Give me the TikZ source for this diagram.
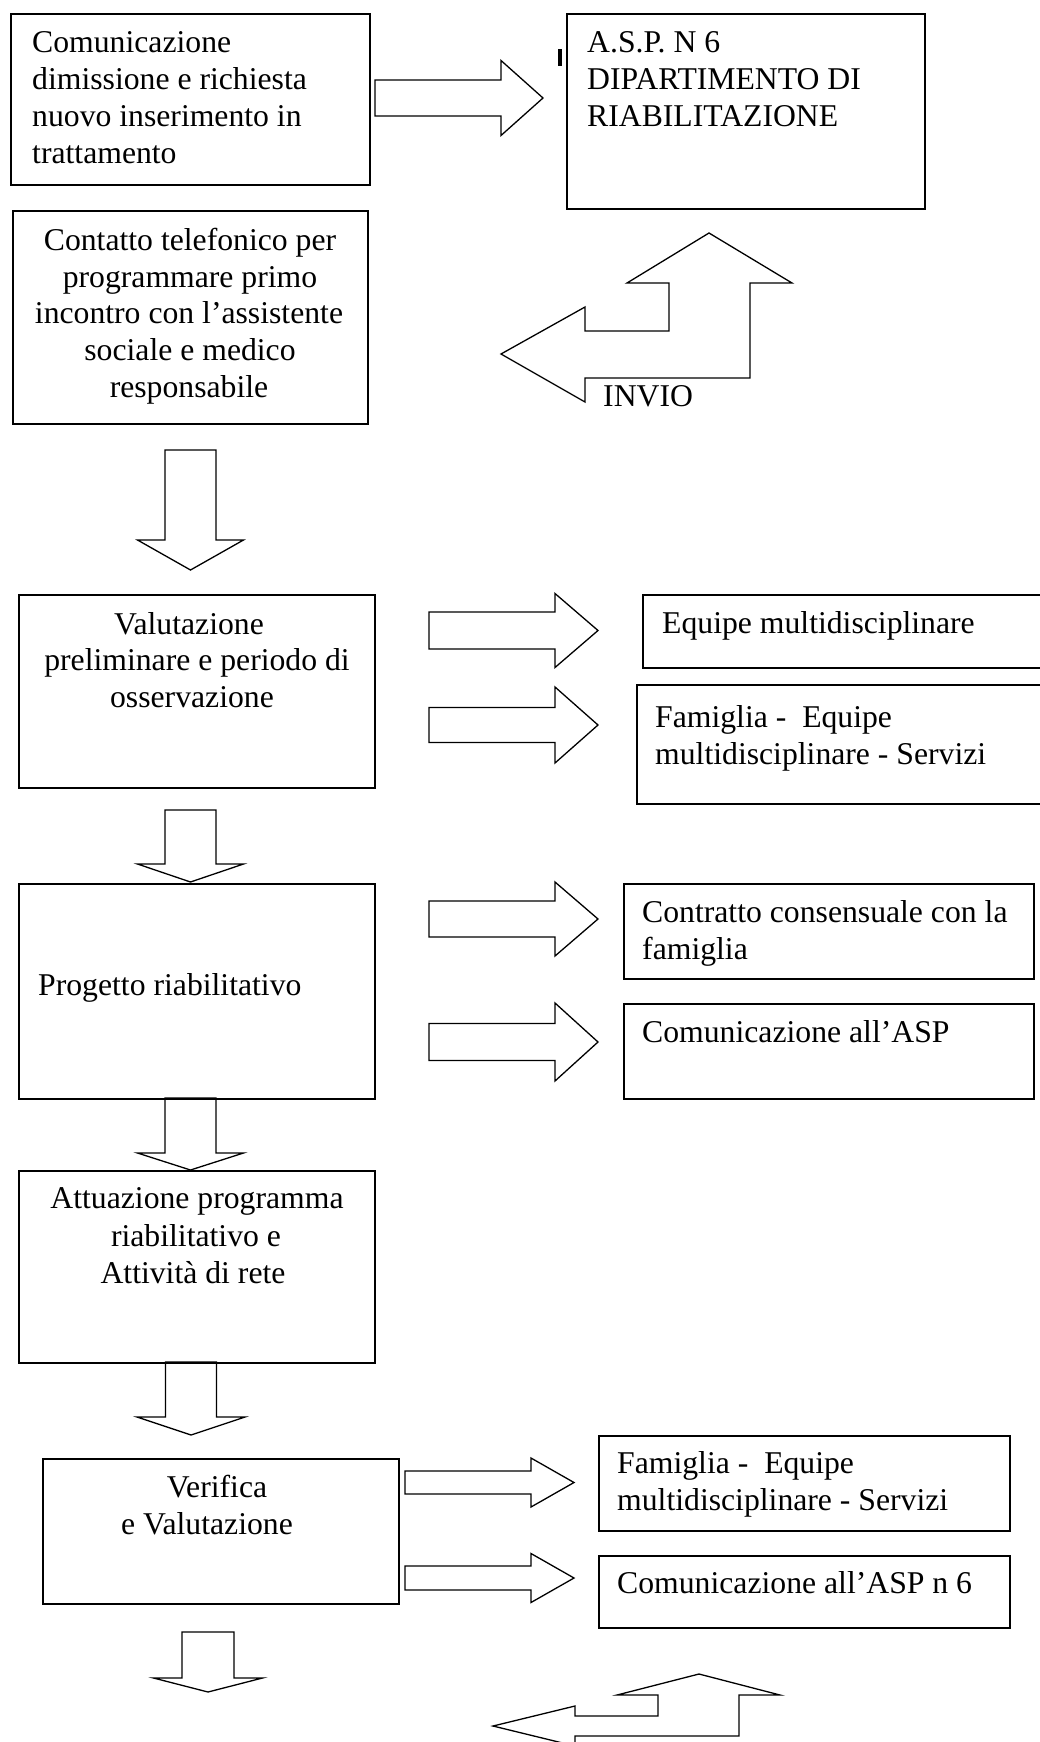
\documentclass[tikz,border=0pt]{standalone}
\usepackage{fontspec}
\setmainfont{Liberation Serif}
\newcommand\rblock[6]{%
  \draw[blk] (#1,#4-#5) -- (#2,#4-#5) -- (#2,#4-#6) -- (#3,#4) -- (#2,#4+#6) -- (#2,#4+#5) -- (#1,#4+#5) -- cycle;}
\newcommand\dblock[6]{%
  \draw[blk] (#1-#2,#4) -- (#1+#2,#4) -- (#1+#2,#5) -- (#1+#3,#5) -- (#1,#6) -- (#1-#3,#5) -- (#1-#2,#5) -- cycle;}
\begin{document}
\begin{tikzpicture}[x=1pt,y=-1pt,
  box/.style={draw, line width=1.6pt, inner sep=0pt, anchor=north west},
  blk/.style={draw, line width=1.3pt, line join=miter},
  txt/.style={inner sep=0pt, font=\fontsize{31.7}{36.7}\selectfont}]
\useasboundingbox (0,0) rectangle (1039,1742);
% boxes
\node[box, minimum width=359, minimum height=171] (b1) at (10,13) {};
\node[box, minimum width=358, minimum height=195] (asp) at (566,13) {};
\node[box, minimum width=355, minimum height=213] (cont) at (12,210) {};
\node[box, minimum width=356, minimum height=193] (val) at (18,594) {};
\node[box, minimum width=410, minimum height=73] (equ) at (642,594) {};
\node[box, minimum width=420, minimum height=119] (fam1) at (636,684) {};
\node[box, minimum width=356, minimum height=215] (prog) at (18,883) {};
\node[box, minimum width=410, minimum height=95] (contr) at (623,883) {};
\node[box, minimum width=410, minimum height=95] (casp) at (623,1003) {};
\node[box, minimum width=356, minimum height=192] (att) at (18,1170) {};
\node[box, minimum width=356, minimum height=145] (ver) at (42,1458) {};
\node[box, minimum width=411, minimum height=95] (fam2) at (598,1435) {};
\node[box, minimum width=411, minimum height=72] (casp6) at (598,1555) {};
\fill (558,49) rectangle (562,66);
% texts
\node[txt, anchor=base west] (t1a) at (32,53) {Comunicazione};
\node[txt, anchor=base west] (t1b) at (32,90) {dimissione e richiesta};
\node[txt, anchor=base west] (t1c) at (32,127) {nuovo inserimento in};
\node[txt, anchor=base west] (t1d) at (32,163) {trattamento};
\node[txt, anchor=base west] (t2a) at (587,53) {A.S.P. N 6};
\node[txt, anchor=base west] (t2b) at (587,90) {DIPARTIMENTO DI};
\node[txt, anchor=base west] (t2c) at (587,127) {RIABILITAZIONE};
\node[txt, anchor=base] (t3a) at (190,250) {Contatto telefonico per};
\node[txt, anchor=base] (t3b) at (190,287) {programmare primo};
\node[txt, anchor=base] (t3c) at (189,323) {incontro con l’assistente};
\node[txt, anchor=base] (t3d) at (190,360) {sociale e medico};
\node[txt, anchor=base] (t3e) at (189,397) {responsabile};
\node[txt, anchor=base west] (inv) at (603,406) {INVIO};
\node[txt, anchor=base] (t4a) at (189,634) {Valutazione};
\node[txt, anchor=base] (t4b) at (197,670) {preliminare e periodo di};
\node[txt, anchor=base] (t4c) at (192,707) {osservazione};
\node[txt, anchor=base west] (t5) at (662,633) {Equipe multidisciplinare};
\node[txt, anchor=base west] (t6a) at (655,727) {Famiglia -\ \ Equipe};
\node[txt, anchor=base west] (t6b) at (655,764) {multidisciplinare - Servizi};
\node[txt, anchor=base west] (t7) at (38,995) {Progetto riabilitativo};
\node[txt, anchor=base west] (t8a) at (642,922) {Contratto consensuale con la};
\node[txt, anchor=base west] (t8b) at (642,959) {famiglia};
\node[txt, anchor=base west] (t9) at (642,1042) {Comunicazione all’ASP};
\node[txt, anchor=base] (t10a) at (197,1208) {Attuazione programma};
\node[txt, anchor=base] (t10b) at (196,1246) {riabilitativo e};
\node[txt, anchor=base] (t10c) at (193,1283) {Attività di rete};
\node[txt, anchor=base] (t11a) at (217,1497) {Verifica};
\node[txt, anchor=base] (t11b) at (207,1534) {e Valutazione};
\node[txt, anchor=base west] (t12a) at (617,1473) {Famiglia -\ \ Equipe};
\node[txt, anchor=base west] (t12b) at (617,1510) {multidisciplinare - Servizi};
\node[txt, anchor=base west] (t13) at (617,1593) {Comunicazione all’ASP n 6};
% right block arrows
\rblock{375}{501}{543}{98}{18}{37.5}
\rblock{429}{555}{598}{630.5}{18.5}{37}
\rblock{429}{555}{598}{725}{17.5}{38}
\rblock{429}{555}{598}{919}{18}{37}
\rblock{429}{555}{598}{1042}{18.5}{39}
\rblock{405}{531}{574}{1482.5}{11.5}{24.5}
\rblock{405}{531}{574}{1578}{12}{24.5}
% down block arrows
\dblock{190.5}{25.5}{53}{450}{540}{570}
\dblock{190.5}{25.5}{53}{810}{864}{882}
\dblock{190.5}{25.5}{53}{1098}{1153}{1170}
\dblock{191}{25.5}{54}{1362}{1417}{1435}
\dblock{208}{26}{54.5}{1632}{1678}{1692}
% bent arrows
\draw[blk] (709,233) -- (792,283) -- (750,283) -- (750,378) -- (585,378) -- (585,402)
  -- (501,354) -- (585,307) -- (585,331) -- (669,331) -- (669,283) -- (627,283) -- cycle;
\draw[blk] (699,1674) -- (780,1695) -- (739,1695) -- (739,1736) -- (575,1736) -- (575,1746)
  -- (493,1726) -- (575,1706) -- (575,1716) -- (658,1716) -- (658,1695) -- (617,1695) -- cycle;
\end{tikzpicture}
\end{document}
